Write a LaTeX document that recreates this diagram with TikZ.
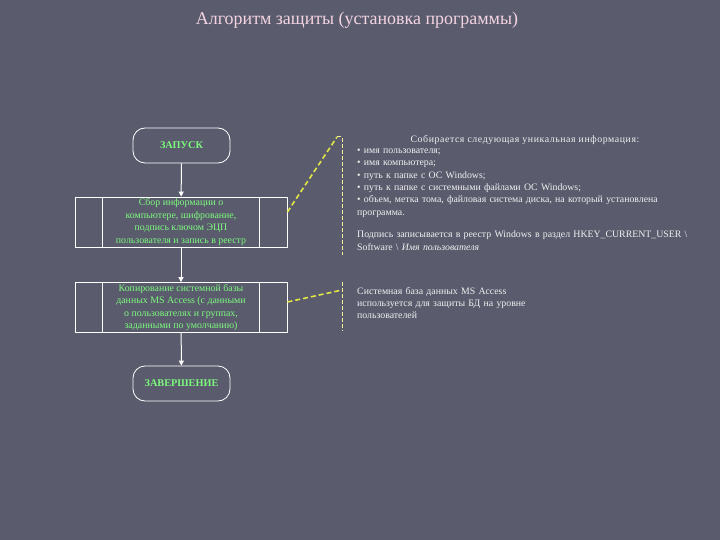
\documentclass[tikz,border=0pt]{standalone}
\usepackage{fontspec}
\setmainfont{Liberation Serif}
\newfontfamily\spacedfont[LetterSpace=6]{Liberation Serif}
\usetikzlibrary{arrows.meta}
\definecolor{bg}{RGB}{90,92,110}
\definecolor{nodegreen}{RGB}{125,250,125}
\definecolor{titlepink}{RGB}{245,212,226}
\definecolor{infowhite}{RGB}{240,240,240}
\definecolor{calyellow}{RGB}{225,230,70}
\tikzset{
  term/.style={draw=white, line width=0.8bp, rounded corners=12bp, minimum width=97bp,
    minimum height=35bp, font=\fontsize{10.3}{12}\selectfont\bfseries, text=nodegreen},
  proc/.style={draw=white, line width=0.8bp, minimum width=212bp, minimum height=50bp,
    align=center, font=\fontsize{9.9}{12.6}\selectfont, text=nodegreen, inner sep=0pt},
  flow/.style={draw=white, line width=1bp, -{Triangle[width=5bp,length=5bp]}},
  callout/.style={draw=calyellow, line width=1.6bp, dash pattern=on 5bp off 3bp},
  accentbar/.style={draw=calyellow!55!white, line width=1bp, dash pattern=on 4bp off 2bp},
  info/.style={text=infowhite, font=\fontsize{9.85}{12.4}\selectfont, align=left,
    inner sep=0pt, anchor=base west, text width=355bp},
}
\begin{document}
\begin{tikzpicture}[x=1bp,y=-1bp]
\fill[bg] (0,0) rectangle (720,540);
\useasboundingbox (0,0) rectangle (720,540);

\node[text=titlepink, font=\fontsize{18}{20}\selectfont] (title) at (357,20)
  {Алгоритм защиты (установка программы)};

% flowchart
\node[term] (start) at (181.5,145.5) {ЗАПУСК};
\node[proc] (p1) at (181,222) {Сбор информации о\\компьютере, шифрование,\\подпись ключом ЭЦП\\пользователя и запись в реестр};
\node[proc] (p2) at (181,307.5) {Копирование системной базы\\данных MS Access (с данными\\о пользователях и группах,\\заданными по умолчанию)};
\node[term] (end) at (181.5,383.5) {ЗАВЕРШЕНИЕ};

\foreach \n in {p1,p2}{
  \draw[white, line width=0.8bp] ([xshift=28bp]\n.north west) -- ([xshift=28bp]\n.south west);
  \draw[white, line width=0.8bp] ([xshift=-28bp]\n.north east) -- ([xshift=-28bp]\n.south east);
}

\draw[flow] (start) -- (p1);
\draw[flow] (p1) -- (p2);
\draw[flow] (p2) -- (end);

% callouts
\coordinate (k1) at (337,137);
\coordinate (b1t) at (342,137);
\coordinate (b1b) at (342,255);
\draw[callout] ([yshift=10bp]p1.east) -- (k1);
\draw[accentbar] (k1) -- (b1t) -- (b1b);

\coordinate (b2t) at (342,282);
\coordinate (b2b) at (342,331);
\coordinate (k2) at (342,290);
\draw[callout] ([yshift=5.5bp]p2.east) -- (k2);
\draw[accentbar] (b2t) -- (b2b);

% information texts
\node[text=infowhite, font=\fontsize{9.85}{11}\spacedfont, anchor=base] (head) at (525,143)
  {Собирается следующая уникальная информация:};
\node[info] (list) at (357,153.5)
  {\textbullet\ имя пользователя;\\
   \textbullet\ имя компьютера;\\
   \textbullet\ путь к папке с ОС Windows;\\
   \textbullet\ путь к папке с системными файлами ОС Windows;\\
   \textbullet\ объем, метка тома, файловая система диска, на который установлена\\
   программа.};
\node[info] (reg) at (357,238)
  {Подпись записывается в реестр Windows в раздел HKEY\_CURRENT\_USER \textbackslash\\
   Software \textbackslash\ \textit{Имя пользователя}};
\node[info] (db) at (357,294)
  {Системная база данных MS Access\\
   используется для защиты БД на уровне\\
   пользователей};
\end{tikzpicture}
\end{document}
